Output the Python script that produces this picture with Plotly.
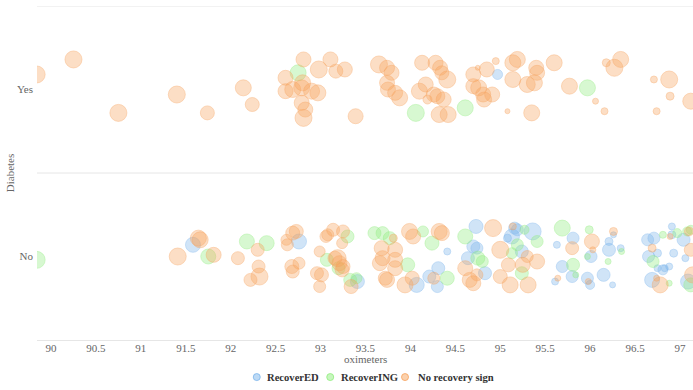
import plotly.graph_objects as go

# ---------------- data ----------------
# RecoverED (blue)
rec_x = [94.97,
         91.58, 92.76, 93.41, 94.07, 94.21, 94.31, 94.30, 94.41, 94.73, 94.70, 94.74, 94.64, 94.83,
         95.13, 95.16, 95.08, 95.19, 95.36, 95.24, 95.63, 95.69, 95.61, 95.81, 95.80, 95.97, 96.00,
         96.01, 96.15, 96.21, 96.21, 96.26, 96.34, 96.25, 96.64, 96.71, 96.65, 96.75, 96.75, 96.83,
         96.88, 96.69, 96.91, 96.91, 97.04, 96.93, 97.06, 97.09, 96.81]
rec_cat = ["Yes"] + ["No"] * 48
rec_jit = [0.09,
           0.07, 0.09, -0.15, -0.17, -0.12, -0.07, -0.18, 0.03, 0.18, 0.06, 0.05, -0.01, -0.10,
           0.12, 0.17, 0.11, 0.16, 0.15, 0.03, 0.07, -0.06, -0.15, 0.11, -0.12, -0.13, -0.17,
           0.00, -0.11, 0.09, 0.04, 0.13, 0.05, -0.17, 0.10, 0.11, 0.00, 0.02, -0.07, -0.07,
           -0.06, -0.14, 0.18, 0.13, 0.10, 0.02, -0.01, -0.15, -0.08]
rec_w = [10,
         15, 15, 14, 15, 13, 13, 12, 7, 14, 13, 12, 13, 13,
         15, 12, 8, 12, 17, 13, 7, 12, 7, 12, 12, 12, 9,
         12, 13, 8, 13, 6, 7, 6, 12, 12, 12, 8, 7, 7,
         7, 15, 7, 8, 13, 8, 7, 15, 10]

# RecoverING (green)
ing_x = [92.75, 94.06, 94.61, 95.97,
         89.84, 91.75, 92.18, 92.40, 93.07, 93.20, 93.30, 93.33, 93.40, 93.60, 93.69, 93.77,
         93.97, 94.14, 94.24, 94.41, 94.61, 94.75, 94.80, 95.27, 95.41, 95.19, 95.13, 95.24,
         95.69, 95.81, 95.84, 95.99, 95.97, 96.20, 96.35, 96.70, 96.88, 96.81, 96.97, 97.08,
         97.12, 97.12]
ing_cat = ["Yes"] * 4 + ["No"] * 38
ing_jit = [0.10, -0.14, -0.11, 0.01,
           -0.02, 0.00, 0.09, 0.08, -0.02, -0.07, 0.12, -0.14, -0.13, 0.14, 0.14, 0.11,
           -0.05, 0.15, 0.08, -0.13, 0.12, -0.01, -0.03, 0.16, 0.09, 0.07, 0.02, -0.10,
           0.17, -0.05, -0.11, 0.16, 0.00, -0.03, 0.03, -0.03, -0.16, 0.13, 0.14, 0.15,
           0.16, -0.17]
ing_w = [16, 17, 16, 16,
         17, 15, 15, 15, 13, 13, 13, 13, 11, 13, 13, 13,
         14, 11, 14, 14, 15, 14, 12, 9, 12, 12, 11, 13,
         16, 13, 6, 8, 6, 6, 6, 12, 6, 7, 9, 9,
         9, 14]

# No recovery sign (orange)
no_x = [89.84, 90.25, 90.75, 91.40, 91.74, 92.14, 92.24, 92.81, 92.61, 92.61, 92.69, 92.79,
        92.80, 92.90, 92.97, 92.98, 93.11, 93.17, 93.27, 92.79, 92.83, 92.81, 93.39, 93.65,
        93.74, 93.79, 93.74, 93.75, 93.83, 93.88, 94.13, 94.28, 94.33, 94.35, 94.41, 94.17,
        94.10, 94.26, 94.19, 94.30, 94.37, 94.32, 94.42, 94.70, 94.70, 94.85, 94.76, 94.81,
        94.91, 94.82, 94.75, 94.95, 95.08, 95.14, 95.19, 95.14, 95.30, 95.40, 95.41, 95.38,
        95.35, 95.60, 95.77, 96.06, 96.16, 96.18, 96.27, 96.34, 96.71, 96.88, 96.89, 96.74,
        97.12,
        91.41, 91.64, 91.66, 91.81, 92.08, 92.30, 92.31, 92.32, 92.22, 92.62, 92.63, 92.69,
        92.73, 92.68, 92.76, 92.69, 92.99, 93.06, 93.08, 93.14, 93.25, 93.24, 93.16, 93.19,
        93.21, 93.25, 93.24, 92.96, 93.01, 92.99, 93.34, 93.68, 93.66, 93.69, 93.72, 93.81,
        93.83, 93.83, 93.83, 93.74, 93.94, 94.02, 93.99, 94.03, 94.32, 94.35, 94.26, 94.61,
        94.66, 94.70, 94.74, 94.92, 95.00, 95.00, 95.09, 95.11, 95.14, 95.25, 95.30, 95.41,
        95.31, 95.64, 95.80, 96.02, 96.03, 95.98, 96.26, 96.69, 96.78, 96.74, 96.89, 97.10,
        97.12, 97.14]
no_cat = ["Yes"] * 73 + ["No"] * 74
no_jit = [0.09, 0.18, -0.14, -0.03, -0.14, 0.01, -0.09, 0.18, 0.07, -0.01, 0.00, 0.01,
          0.04, -0.01, -0.02, 0.12, 0.18, 0.11, 0.12, -0.08, -0.12, -0.17, -0.16, 0.15,
          0.13, 0.10, 0.04, 0.00, -0.02, -0.05, 0.16, 0.16, 0.13, 0.10, 0.06, 0.03,
          -0.01, -0.03, -0.06, -0.04, -0.06, -0.15, -0.15, 0.09, 0.02, 0.12, 0.01, -0.03,
          -0.03, -0.06, 0.13, 0.17, -0.13, 0.16, 0.18, 0.06, 0.03, 0.13, 0.10, 0.04,
          -0.14, 0.16, 0.02, -0.07, -0.13, 0.16, 0.13, 0.18, 0.06, 0.06, -0.04, -0.13,
          -0.07,
          0.00, 0.11, 0.10, 0.01, -0.01, 0.04, -0.06, -0.12, -0.14, 0.10, 0.07, 0.14,
          0.15, -0.06, -0.04, -0.09, 0.03, 0.12, 0.13, 0.16, 0.15, 0.08, -0.01, -0.01,
          -0.04, -0.06, -0.08, -0.10, -0.11, -0.18, -0.18, 0.05, -0.04, -0.01, -0.13, 0.11,
          0.04, -0.02, -0.07, -0.14, -0.17, -0.13, 0.15, 0.12, 0.15, 0.14, -0.13, -0.07,
          -0.14, -0.16, -0.11, 0.17, 0.04, -0.12, -0.05, -0.17, 0.18, -0.05, 0.00, -0.03,
          -0.17, -0.13, 0.05, 0.09, 0.04, -0.15, 0.15, 0.05, -0.17, -0.13, 0.12, 0.15,
          0.04, -0.11]
no_w = [17, 17, 17, 17, 14, 16, 14, 15, 15, 15, 16, 16,
        16, 16, 16, 17, 15, 14, 15, 15, 15, 17, 15, 17,
        15, 15, 15, 15, 15, 16, 15, 15, 15, 14, 17, 15,
        16, 15, 9, 15, 15, 16, 16, 15, 15, 15, 16, 15,
        15, 15, 5, 7, 5, 16, 16, 16, 16, 15, 15, 16,
        16, 16, 16, 6, 7, 8, 17, 16, 7, 17, 8, 7,
        16,
        17, 16, 16, 15, 13, 13, 13, 17, 13, 11, 12, 14,
        14, 14, 12, 13, 11, 12, 12, 13, 13, 11, 14, 17,
        15, 14, 14, 13, 14, 12, 14, 15, 15, 15, 14, 8,
        15, 15, 15, 15, 16, 14, 16, 15, 16, 15, 12, 15,
        15, 15, 12, 17, 17, 14, 14, 16, 7, 15, 12, 15,
        16, 6, 13, 15, 6, 6, 8, 8, 16, 6, 6, 9,
        13, 16]

categories = ["No", "Yes"]
series_names = ["RecoverED", "RecoverING", "No recovery sign"]
x_ticks = [90, 90.5, 91, 91.5, 92, 92.5, 93, 93.5, 94, 94.5, 95, 95.5, 96, 96.5, 97]

# ---------------- figure ----------------
colors = ["124,181,236", "144,237,125", "247,163,92"]
FONT = "Liberation Serif"

fig = go.Figure()
for name, xs, cats, jit, w, c in [
    (series_names[0], rec_x, rec_cat, rec_jit, rec_w, colors[0]),
    (series_names[1], ing_x, ing_cat, ing_jit, ing_w, colors[1]),
    (series_names[2], no_x, no_cat, no_jit, no_w, colors[2]),
]:
    ys = [categories.index(cc) + j for cc, j in zip(cats, jit)]
    fig.add_trace(go.Scatter(
        x=xs, y=ys, mode="markers", name=name, showlegend=False,
        marker=dict(size=w, sizemode="diameter", sizeref=1,
                    color=f"rgba({c},0.5)",
                    line=dict(color=f"rgba({c},0.55)", width=1)),
    ))

# category band separators
for yv in [0.5, 1.5]:
    fig.add_shape(type="line", xref="paper", x0=0, x1=1, yref="y", y0=yv, y1=yv,
                  line=dict(color="#e6e6e6", width=1), layer="below")

# compact legend below the axis title (symbol + bold label per series)
LEG_Y = -0.111
leg_sym_x = [0.335, 0.447, 0.561]
leg_txt_x = [0.347, 0.460, 0.577]
for name, c, sx, tx in zip(series_names, colors, leg_sym_x, leg_txt_x):
    fig.add_shape(type="circle", xref="paper", yref="paper",
                  xsizemode="pixel", ysizemode="pixel", xanchor=sx, yanchor=LEG_Y,
                  x0=-3.5, x1=3.5, y0=-3.5, y1=3.5,
                  fillcolor=f"rgba({c},0.5)", line=dict(color=f"rgba({c},0.8)", width=1))
    fig.add_annotation(text=f"<b>{name}</b>", xref="paper", yref="paper",
                       x=tx, y=LEG_Y, xanchor="left", yanchor="middle", showarrow=False,
                       font=dict(family=FONT, size=10.6, color="#333333"))

# x axis title
fig.add_annotation(text="oximeters", xref="paper", yref="paper", x=0.5, y=-0.058,
                   xanchor="center", yanchor="middle", showarrow=False,
                   font=dict(family=FONT, size=11, color="#666666"))

fig.update_layout(
    width=693, height=390,
    margin=dict(l=37, r=0, t=6, b=50),
    paper_bgcolor="white", plot_bgcolor="white",
    font=dict(family=FONT, size=11, color="#666666"),
    showlegend=False,
    xaxis=dict(range=[89.844, 97.145], tickvals=x_ticks,
               ticktext=[f"{t:g}" for t in x_ticks],
               showgrid=False, zeroline=False, automargin=False,
               showline=True, linecolor="#e6e6e6", linewidth=1,
               ticks="", ticklen=0, ticklabelstandoff=-2,
               tickfont=dict(size=11, color="#666666")),
    yaxis=dict(range=[-0.5, 1.5], tickvals=[0, 1], ticktext=categories,
               showgrid=False, zeroline=False, showline=False, ticks="", automargin=False,
               ticklen=0, ticklabelstandoff=3,
               tickfont=dict(size=11, color="#666666"),
               title=dict(text="Diabetes", standoff=0, font=dict(size=11, color="#666666"))),
)

fig.write_html("out.html", config={"displayModeBar": False},
               post_script="document.body.style.margin='0';document.body.style.padding='0';")
